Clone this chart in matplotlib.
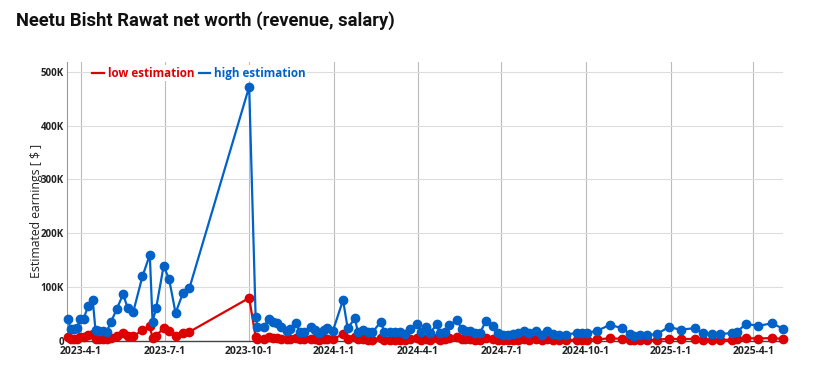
import matplotlib
matplotlib.use("Agg")
import matplotlib.pyplot as plt
from matplotlib.lines import Line2D
from matplotlib.ticker import FuncFormatter
import pandas as pd

title = "Neetu Bisht Rawat net worth (revenue, salary)"
ylabel = "Estimated earnings [ $ ]"
series_names = ["low estimation", "high estimation"]

dates = [
    "2023-03-18", "2023-03-21", "2023-03-25", "2023-03-28", "2023-03-31", "2023-04-04",
    "2023-04-09", "2023-04-14", "2023-04-17", "2023-04-21", "2023-04-25", "2023-04-29",
    "2023-05-04", "2023-05-10", "2023-05-17", "2023-05-22", "2023-05-28", "2023-06-07",
    "2023-06-15", "2023-06-18", "2023-06-22", "2023-06-30", "2023-07-06", "2023-07-13",
    "2023-07-21", "2023-07-28", "2023-10-01",
    "2023-10-08", "2023-10-10", "2023-10-17", "2023-10-22", "2023-10-27", "2023-10-31",
    "2023-11-05", "2023-11-11", "2023-11-14", "2023-11-21", "2023-11-25", "2023-11-30",
    "2023-12-07", "2023-12-11", "2023-12-16", "2023-12-21", "2023-12-25", "2023-12-31",
    "2024-01-11", "2024-01-16", "2024-01-24", "2024-01-27", "2024-02-02", "2024-02-07",
    "2024-02-12", "2024-02-21", "2024-02-25", "2024-03-02", "2024-03-07", "2024-03-13",
    "2024-03-18", "2024-03-24", "2024-03-31", "2024-04-05", "2024-04-10", "2024-04-14",
    "2024-04-22", "2024-04-25", "2024-05-01", "2024-05-05", "2024-05-14", "2024-05-19",
    "2024-05-23", "2024-05-28", "2024-06-02",
    "2024-06-08", "2024-06-14", "2024-06-22", "2024-06-27", "2024-07-03", "2024-07-08",
    "2024-07-14", "2024-07-19", "2024-07-26", "2024-07-31", "2024-08-08", "2024-08-14",
    "2024-08-20", "2024-08-26", "2024-09-02", "2024-09-09", "2024-09-21", "2024-09-27",
    "2024-10-02", "2024-10-13", "2024-10-27", "2024-11-09", "2024-11-18", "2024-11-22",
    "2024-11-29", "2024-12-06", "2024-12-17", "2024-12-30", "2025-01-12", "2025-01-27",
    "2025-02-05", "2025-02-15", "2025-02-24", "2025-03-09", "2025-03-14", "2025-03-24",
    "2025-04-06", "2025-04-21", "2025-05-03",
]

high = [
    41000, 22000, 22000, 24000, 40000, 41000, 65000, 76000, 20000, 19000, 19000, 17000,
    36000, 59000, 87000, 61000, 54000, 120000, 160000, 36000, 62000, 139000, 115000, 52000,
    89000, 98000, 472000,
    45000, 26000, 26000, 41000, 36000, 33000, 26000, 19000, 22000, 33000, 17000, 17000,
    26000, 20000, 15000, 20000, 24000, 19000,
    76000, 24000, 42000, 17000, 20000, 16000, 16000, 36000, 16000, 16000, 16000, 16000,
    13000, 22000, 32000, 16000, 26000, 14000, 31000, 14000, 17000, 29000, 39000, 22000,
    19000, 18000, 15000,
    15000, 37000, 28000, 15000, 12000, 12000, 13000, 15000, 19000, 15000, 19000, 12000,
    19000, 13000, 12000, 12000, 15000, 15000, 15000, 19000, 30000, 24000, 13000, 9000,
    11000, 11000, 13000, 26000, 21000, 24000, 14000, 13000, 13000, 15000, 17000, 32000,
    28000, 33000, 23000,
]

low = [
    7000, 4000, 4000, 4000, 7000, 7000, 11000, 13000, 3000, 3000, 3000, 3000,
    6000, 10000, 15000, 10000, 9000, 20000, 27000, 6000, 10000, 24000, 19000, 9000,
    15000, 17000, 80000,
    7600, 4400, 4400, 7000, 6100, 5600, 4400, 3200, 3700, 5600, 2900, 2900,
    4400, 3400, 2500, 3400, 4100, 3200,
    13000, 4100, 7100, 2900, 3400, 2700, 2700, 6100, 2700, 2700, 2700, 2700,
    2200, 3700, 5400, 2700, 4400, 2400, 5300, 2400, 2900, 4900, 6600, 3700,
    3200, 3100, 2500,
    2500, 6300, 4700, 2500, 2000, 2000, 2200, 2500, 3200, 2500, 3200, 2000,
    3200, 2200, 2000, 2000, 2500, 2500, 2500, 3200, 5100, 4100, 2200, 1500,
    1900, 1900, 2200, 4400, 3600, 4100, 2400, 2200, 2200, 2500, 2900, 5400,
    4700, 5600, 3900,
]

tick_dates = ["2023-04-01", "2023-07-01", "2023-10-01", "2024-01-01", "2024-04-01",
              "2024-07-01", "2024-10-01", "2025-01-01", "2025-04-01"]
tick_labels = ["2023-4-1", "2023-7-1", "2023-10-1", "2024-1-1", "2024-4-1",
               "2024-7-1", "2024-10-1", "2025-1-1", "2025-4-1"]
yticks = [0, 100000, 200000, 300000, 400000, 500000]

RED = "#dd0000"
BLUE = "#0062c8"

x = pd.to_datetime(dates)

fig = plt.figure(figsize=(8.32, 3.92), dpi=100)
ax = fig.add_axes([0.0805, 0.130, 0.8605, 0.712])

ax.plot(x, low, color=RED, lw=1.6, marker="o", ms=6, zorder=3, clip_on=False)
ax.plot(x, high, color=BLUE, lw=1.6, marker="o", ms=6, zorder=4, clip_on=False)

ax.set_xlim(x[0] - pd.Timedelta(days=1), x[-1])
ax.set_ylim(0, 518000)

ax.set_xticks(pd.to_datetime(tick_dates))
ax.set_xticklabels(tick_labels)
ax.set_yticks(yticks)
ax.yaxis.set_major_formatter(FuncFormatter(lambda v, p: "0" if v == 0 else f"{int(v/1000)}K"))

for lab in ax.get_xticklabels():
    lab.set_fontfamily("Open Sans")
    lab.set_fontweight("bold")
    lab.set_fontsize(7.5)
    lab.set_color("#222222")
for lab in ax.get_yticklabels():
    lab.set_fontfamily("Open Sans")
    lab.set_fontweight("bold")
    lab.set_fontsize(7)
    lab.set_color("#222222")

ax.tick_params(axis="x", length=0, pad=3.5)
ax.tick_params(axis="y", length=0, pad=2)
ax.grid(axis="x", color="#bbbbbb", lw=0.8)
ax.grid(axis="y", color="#dddddd", lw=0.8)
ax.set_axisbelow(True)
for s in ["top", "right"]:
    ax.spines[s].set_visible(False)
ax.spines["left"].set_color("#999999")
ax.spines["left"].set_linewidth(0.8)
ax.spines["bottom"].set_color("#444444")
ax.spines["bottom"].set_linewidth(1.0)

ax.set_ylabel(ylabel, fontfamily="Open Sans", fontsize=8.8, color="#222222")
ax.yaxis.set_label_coords(-0.034, 0.466)

handles = [Line2D([0], [0], color=RED, lw=1.6), Line2D([0], [0], color=BLUE, lw=1.6)]
leg = ax.legend(handles, series_names, loc="upper left", bbox_to_anchor=(0.025, 1.01),
                ncol=2, frameon=True, facecolor="white", edgecolor="none", framealpha=1,
                handlelength=1.0, handletextpad=0.3, columnspacing=0.4, borderpad=0.15,
                labelcolor="linecolor",
                prop={"family": "Open Sans", "weight": "bold", "size": 8.4})
leg.set_zorder(10)

fig.text(0.019, 0.948, title, fontfamily="Roboto", fontweight="bold", fontsize=13.2,
         color="#111111", va="center", ha="left")

fig.savefig("out.png", dpi=100)
